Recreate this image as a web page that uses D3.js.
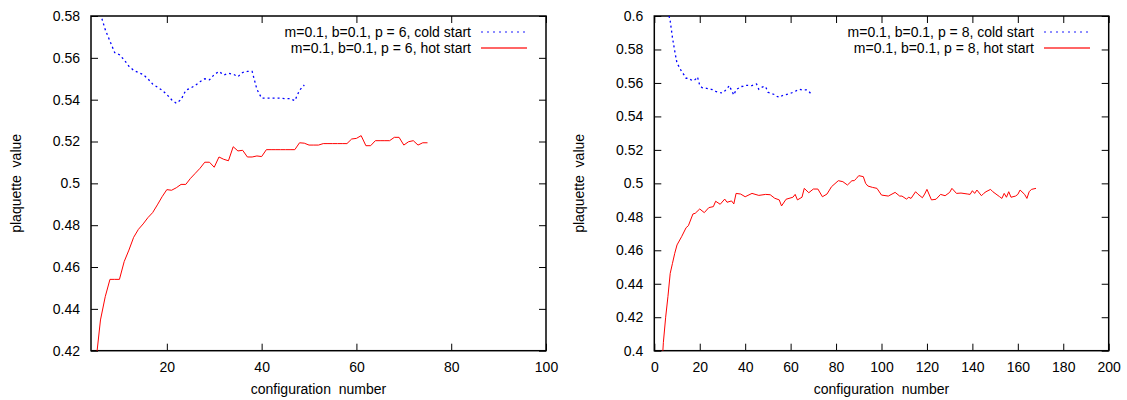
<!DOCTYPE html>
<html><head><meta charset="utf-8">
<script src="https://cdn.jsdelivr.net/npm/d3@7"></script>
<style>
body{margin:0;background:#fff;}
text{font-family:"Liberation Sans",Arial,sans-serif;font-size:14px;fill:#000;}
</style></head>
<body><svg id="c" width="1127" height="400"></svg>
<script>
// ---- data ----
const coldLeftX = [6,7,8,9,10,11,12,13,14,15,16,17,18,19,20,21,22,23,24,25,26,27,28,29,30,31,32,33,34,35,36,37,38,39,40,41,42,43,44,45,46,47,48,49];
const coldLeftY = [0.581,0.5735,0.568,0.5625,0.5615,0.559,0.556,0.554,0.553,0.552,0.550,0.5475,0.546,0.5445,0.5425,0.540,0.5383,0.540,0.5445,0.5455,0.5468,0.5486,0.550,0.5495,0.552,0.5535,0.5518,0.5526,0.5522,0.551,0.553,0.5535,0.5535,0.545,0.5407,0.5407,0.5407,0.5407,0.5407,0.5405,0.5405,0.5395,0.5445,0.547];
const hotLeftX = [5,6,7,8,9,10,11,12,13,14,15,16,17,18,19,20,21,22,23,24,25,26,27,28,29,30,31,32,33,34,35,36,37,38,39,40,41,42,43,44,45,46,47,48,49,50,51,52,53,54,55,56,57,58,59,60,61,62,63,64,65,66,67,68,69,70,71,72,73,74,75];
const hotLeftY = [0.414,0.4347,0.4458,0.4541,0.4541,0.4541,0.4626,0.4681,0.4742,0.478,0.4806,0.4836,0.486,0.4897,0.4936,0.497,0.4967,0.4979,0.4995,0.4995,0.5024,0.5048,0.5072,0.5101,0.5101,0.5077,0.5126,0.5115,0.5108,0.5175,0.5155,0.5158,0.5126,0.5126,0.5131,0.5128,0.5161,0.5161,0.5161,0.5161,0.5161,0.5161,0.5161,0.5194,0.5192,0.5183,0.5183,0.5183,0.519,0.519,0.519,0.519,0.519,0.519,0.5212,0.5215,0.5228,0.518,0.518,0.5204,0.5204,0.5204,0.5204,0.522,0.522,0.5183,0.5199,0.5204,0.5183,0.5194,0.5194];

const coldRightX = [6,7,8,9,10,11,12,13,14,15,16,17,18,19,20,21,22,23,24,25,26,27,28,29,30,31,32,33,34,35,36,37,38,39,40,41,42,43,44,45,46,47,48,49,50,51,52,53,54,55,56,57,58,59,60,61,62,63,64,65,66,67,68,69];
const coldRightY = [0.603,0.597,0.587,0.579,0.5717,0.5695,0.5668,0.565,0.5628,0.5628,0.562,0.5613,0.562,0.5636,0.5585,0.5572,0.557,0.5568,0.5565,0.5562,0.5558,0.555,0.5545,0.5542,0.554,0.5552,0.5565,0.5584,0.5555,0.5528,0.556,0.5568,0.5578,0.558,0.5586,0.5586,0.5585,0.5584,0.559,0.5594,0.5562,0.5572,0.5578,0.5578,0.5544,0.554,0.5535,0.553,0.552,0.5514,0.5522,0.5528,0.553,0.5534,0.5538,0.5544,0.555,0.5556,0.5562,0.5558,0.5558,0.5558,0.555,0.5534];
const hotRightX = [3,4,5,6,7,8,9,10,12,14,15,17,18,20,22,24,26,27,29,31,32,34,35,36,38,40,43,46,49,51,53,55,56,58,61,62,63,65,66,68,70,72,74,76,78,81,83,85,87,88,89,90,92,93,94,96,98,100,103,106,108,109,111,112,113,115,116,118,119,120,122,124,126,128,130,131,133,135,138,139,140,141,142,144,145,146,148,149,152,153,154,155,156,157,159,160,161,163,164,165,166,168];
const hotRightY = [0.383,0.405,0.42,0.4323,0.4462,0.4522,0.4582,0.4632,0.4681,0.4735,0.4747,0.4817,0.4821,0.4847,0.4825,0.4855,0.4861,0.4893,0.4875,0.4906,0.4887,0.4895,0.4877,0.494,0.4936,0.492,0.494,0.4928,0.4934,0.4932,0.4911,0.4901,0.4865,0.4905,0.4917,0.4934,0.4901,0.4917,0.497,0.4944,0.4966,0.4966,0.492,0.4936,0.498,0.5016,0.501,0.499,0.5016,0.5016,0.503,0.5046,0.504,0.5,0.4984,0.4976,0.497,0.493,0.4924,0.4946,0.4924,0.4924,0.4906,0.4917,0.491,0.495,0.4936,0.4914,0.4936,0.4964,0.4901,0.4905,0.4934,0.4926,0.4946,0.497,0.494,0.4942,0.4936,0.4934,0.4956,0.494,0.496,0.4926,0.494,0.495,0.4964,0.495,0.492,0.491,0.494,0.4917,0.495,0.4917,0.4924,0.4934,0.496,0.4934,0.491,0.495,0.4964,0.497];

const leftXTicks = [20,40,60,80,100];
const leftYTicks = [0.42,0.44,0.46,0.48,0.5,0.52,0.54,0.56,0.58];
const rightXTicks = [0,20,40,60,80,100,120,140,160,180,200];
const rightYTicks = [0.4,0.42,0.44,0.46,0.48,0.5,0.52,0.54,0.56,0.58,0.6];
const legendLeft = ["m=0.1, b=0.1, p = 6, cold start","m=0.1, b=0.1, p = 6, hot start"];
const legendRight = ["m=0.1, b=0.1, p = 8, cold start","m=0.1, b=0.1, p = 8, hot start"];
const xTitle = "configuration  number";
const yTitle = "plaquette  value";

const svg = d3.select("#c");
const fmt = d => String(+d.toFixed(2));

function panel(id, box, xDom, yDom, xTicks, yTicks, cold, hot, legend){
  const x = d3.scaleLinear().domain(xDom).range([box.l, box.r]);
  const y = d3.scaleLinear().domain(yDom).range([box.b, box.t]);
  const g = svg.append("g");
  g.append("clipPath").attr("id", id).append("rect")
    .attr("x", box.l).attr("y", box.t).attr("width", box.r-box.l).attr("height", box.b-box.t);

  const axStyle = sel => { sel.select(".domain").remove(); sel.selectAll("line").attr("stroke","#000").attr("stroke-width",1); sel.selectAll("text").attr("font-size",14).attr("font-family","Liberation Sans, Arial, sans-serif"); };
  g.append("g").attr("transform",`translate(0,${box.b})`)
    .call(d3.axisBottom(x).tickValues(xTicks).tickFormat(d3.format("d")).tickSize(-7).tickPadding(11)).call(axStyle);
  g.append("g").attr("transform",`translate(0,${box.t})`)
    .call(d3.axisTop(x).tickValues(xTicks).tickFormat("").tickSize(-7)).call(axStyle);
  g.append("g").attr("transform",`translate(${box.l},0)`)
    .call(d3.axisLeft(y).tickValues(yTicks).tickFormat(fmt).tickSize(-7).tickPadding(11)).call(axStyle);
  g.append("g").attr("transform",`translate(${box.r},0)`)
    .call(d3.axisRight(y).tickValues(yTicks).tickFormat("").tickSize(-7)).call(axStyle);

  g.append("rect").attr("x",box.l).attr("y",box.t).attr("width",box.r-box.l).attr("height",box.b-box.t)
    .attr("fill","none").attr("stroke","#000").attr("stroke-width",1.5);

  const line = d3.line().x(d=>x(d[0])).y(d=>y(d[1]));
  const coldPts = cold[0].map((v,i)=>[v,cold[1][i]]);
  const hotPts = hot[0].map((v,i)=>[v,hot[1][i]]);
  g.append("path").attr("d", line(coldPts)).attr("clip-path",`url(#${id})`)
    .attr("fill","none").attr("stroke","#0000ff").attr("stroke-width",1.3).attr("stroke-dasharray","2,3");
  g.append("path").attr("d", line(hotPts)).attr("clip-path",`url(#${id})`)
    .attr("fill","none").attr("stroke","#ff0000").attr("stroke-width",1);

  // legend
  const lx = box.legX, rows=[box.t+16, box.t+32];
  legend.forEach((t,i)=>{
    g.append("text").attr("x", lx).attr("y", rows[i]+5).attr("text-anchor","end").text(t);
    g.append("line").attr("x1", lx+10).attr("x2", lx+56).attr("y1", rows[i]).attr("y2", rows[i])
      .attr("stroke", i===0?"#0000ff":"#ff0000").attr("stroke-opacity",0.6)
      .attr("stroke-width", i===0?1.5:2).attr("stroke-dasharray", i===0?"2,4":null);
  });

  g.append("text").attr("x",(box.l+box.r)/2).attr("y",394).attr("text-anchor","middle")
    .attr("xml:space","preserve").style("white-space","pre").text(xTitle);
  g.append("text").attr("transform",`translate(${box.yl},${(box.t+box.b)/2}) rotate(-90)`)
    .attr("text-anchor","middle").style("white-space","pre").text(yTitle);
}

panel("clipL", {l:91,r:546,t:16,b:350.7,legX:471,yl:21}, [4,100],[0.42,0.58], leftXTicks, leftYTicks,
  [coldLeftX,coldLeftY],[hotLeftX,hotLeftY], legendLeft);
panel("clipR", {l:654.3,r:1108.7,t:16,b:350.7,legX:1034,yl:584}, [0,200],[0.4,0.6], rightXTicks, rightYTicks,
  [coldRightX,coldRightY],[hotRightX,hotRightY], legendRight);
</script></body></html>
